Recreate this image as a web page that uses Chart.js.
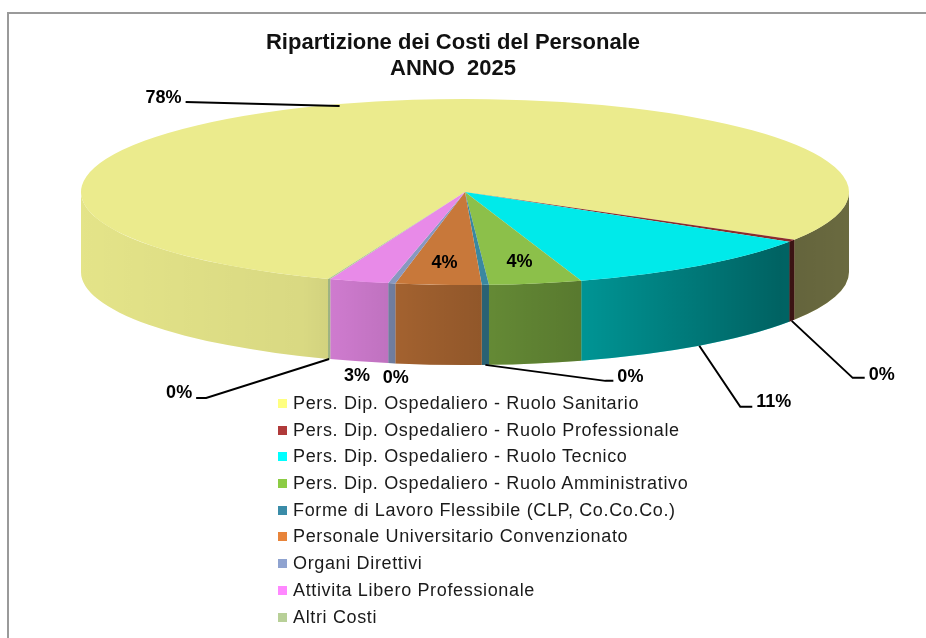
<!DOCTYPE html>
<html>
<head>
<meta charset="utf-8">
<title>Ripartizione dei Costi del Personale</title>
<script src="https://cdn.jsdelivr.net/npm/chart.js@4.4.1/dist/chart.umd.min.js"></script>
<style>
  html, body { margin: 0; padding: 0; background: #fff; }
  body { width: 926px; height: 638px; position: relative; overflow: hidden; font-family: Arial, "Liberation Sans", sans-serif; }
  #frame { position: absolute; left: 7px; top: 12px; width: 1000px; height: 1000px; border: 2px solid #9a9a9a; }
  #costChart { position: absolute; left: 0; top: 0; }
  #legend { position: absolute; left: 278px; top: 390px; margin: 0; padding: 0; list-style: none; }
  #legend li { height: 26.7px; line-height: 26.7px; font-size: 18px; letter-spacing: 0.65px; color: #1a1a1a; white-space: nowrap; }
  #legend li span { display: inline-block; width: 9px; height: 9px; margin-right: 6px; vertical-align: 1px; }
</style>
</head>
<body>
<div id="frame"></div>
<canvas id="costChart" width="926" height="638"></canvas>
<ul id="legend"></ul>
<script>
// data (percent share of total personnel cost)
const categories = [
    'Pers. Dip. Ospedaliero - Ruolo Sanitario',
    'Pers. Dip. Ospedaliero - Ruolo Professionale',
    'Pers. Dip. Ospedaliero - Ruolo Tecnico',
    'Pers. Dip. Ospedaliero - Ruolo Amministrativo',
    'Forme di Lavoro Flessibile (CLP, Co.Co.Co.)',
    'Personale Universitario Convenzionato',
    'Organi Direttivi',
    'Attivita Libero Professionale',
    'Altri Costi'
];
const shares = [77.8, 0.4, 11.1, 3.9, 0.3, 3.6, 0.3, 2.5, 0.1];

// colours: lit top face and legend swatches
const faceColors = ['#ebeb8d', '#8b2d2d', '#00eaea', '#8cc04a', '#3a88a0', '#c8783a', '#8898c0', '#e88ae8', '#b0c890'];
const legendColors = ['#ffff80', '#b03a3a', '#00ffff', '#8ccc44', '#3a8ca8', '#e8843a', '#8fa3d0', '#ff88ff', '#b8d098'];

// 3d look of the pie
const pie3d = { cx: 465, cy: 192, rx: 384, ry: 93, depth: 80 };

// label placement per slice: inside the face, plain under the side, or with a leader line
const labelStyle = [
    { mode: 'leader', top: true, dx: -154, dy: -4, tail: 0, ty: -4 },
    { mode: 'leader', dx: 61, dy: 57, tail: 12, ty: -3 },
    { mode: 'leader', dx: 41, dy: 61, tail: 12, ty: -5 },
    { mode: 'inside' },
    { mode: 'leader', dx: 120, dy: 16, tail: 8, ty: -4 },
    { mode: 'inside' },
    { mode: 'plain', dx: 4, dy: 15 },
    { mode: 'plain', dx: -2, dy: 15 },
    { mode: 'leader', dx: -123, dy: 39, tail: -10, ty: -5 }
];

const total = shares.reduce((a, b) => a + b, 0);

function ellipsePoint(angle, f, drop) {
    return {
        x: pie3d.cx + f * pie3d.rx * Math.cos(angle),
        y: pie3d.cy + f * pie3d.ry * Math.sin(angle) + (drop || 0)
    };
}

const pie3dPlugin = {
    id: 'pie3d',
    beforeDatasetDraw(chart) {
        const ctx = chart.ctx;
        const arcs = chart.getDatasetMeta(0).data;
        const colors = chart.data.datasets[0].backgroundColor;
        const { cx, cy, rx, ry, depth } = pie3d;

        const shade = ctx.createLinearGradient(cx - rx, 0, cx + rx, 0);
        shade.addColorStop(0, 'rgba(0,0,0,0.03)');
        shade.addColorStop(0.29, 'rgba(0,0,0,0.08)');
        shade.addColorStop(0.45, 'rgba(0,0,0,0.22)');
        shade.addColorStop(0.58, 'rgba(0,0,0,0.32)');
        shade.addColorStop(0.67, 'rgba(0,0,0,0.38)');
        shade.addColorStop(0.91, 'rgba(0,0,0,0.58)');
        shade.addColorStop(1, 'rgba(0,0,0,0.55)');

        // side wall, only the front half is visible
        arcs.forEach((arc, i) => {
            const { startAngle, endAngle } = arc.getProps(['startAngle', 'endAngle'], true);
            for (let k = -1; k <= 2; k++) {
                const s = Math.max(startAngle, k * 2 * Math.PI);
                const e = Math.min(endAngle, k * 2 * Math.PI + Math.PI);
                if (e <= s) continue;
                ctx.beginPath();
                ctx.ellipse(cx, cy, rx, ry, 0, s, e);
                ctx.ellipse(cx, cy + depth, rx, ry, 0, e, s, true);
                ctx.closePath();
                ctx.fillStyle = colors[i];
                ctx.fill();
                ctx.fillStyle = shade;
                ctx.fill();
            }
        });

        // squash the library's round pie onto the top face
        const a0 = arcs[0];
        ctx.save();
        ctx.translate(cx, cy);
        ctx.scale(rx / a0.outerRadius, ry / a0.outerRadius);
        ctx.translate(-a0.x, -a0.y);
    },
    afterDatasetDraw(chart) {
        const ctx = chart.ctx;
        ctx.restore();

        const arcs = chart.getDatasetMeta(0).data;
        const values = chart.data.datasets[0].data;
        ctx.save();
        ctx.font = 'bold 18px Arial, "Liberation Sans", sans-serif';
        ctx.fillStyle = '#000';
        ctx.strokeStyle = '#000';
        ctx.lineWidth = 2;
        ctx.textBaseline = 'middle';

        arcs.forEach((arc, i) => {
            const { startAngle, endAngle } = arc.getProps(['startAngle', 'endAngle'], true);
            const mid = (startAngle + endAngle) / 2;
            const text = Math.round(values[i] / total * 100) + '%';
            const st = labelStyle[i];
            const front = Math.sin(mid) > 0 && !st.top;

            if (st.mode === 'inside') {
                const p = ellipsePoint(mid, 0.77, 0);
                ctx.textAlign = 'center';
                ctx.fillText(text, p.x, p.y);
                return;
            }
            const anchor = ellipsePoint(mid, 1, front ? pie3d.depth : 2);
            if (st.mode === 'plain') {
                ctx.textAlign = 'center';
                ctx.fillText(text, anchor.x + st.dx, anchor.y + st.dy);
                return;
            }
            const elbow = { x: anchor.x + st.dx, y: anchor.y + st.dy };
            const goesLeft = st.dx < 0;
            const end = { x: elbow.x + st.tail, y: elbow.y };
            ctx.beginPath();
            ctx.moveTo(anchor.x, anchor.y);
            ctx.lineTo(elbow.x, elbow.y);
            ctx.lineTo(end.x, end.y);
            ctx.stroke();
            ctx.textAlign = goesLeft ? 'right' : 'left';
            ctx.fillText(text, end.x + (goesLeft ? -4 : 4), end.y + st.ty);
        });
        ctx.restore();
    }
};

new Chart(document.getElementById('costChart'), {
    type: 'pie',
    data: {
        labels: categories,
        datasets: [{
            data: shares,
            backgroundColor: faceColors,
            borderWidth: 0
        }]
    },
    options: {
        responsive: false,
        animation: false,
        rotation: 200.9,
        layout: { padding: { right: 20 } },
        plugins: {
            legend: { display: false },
            tooltip: { enabled: false },
            title: {
                display: true,
                text: ['Ripartizione dei Costi del Personale', 'ANNO  2025'],
                color: '#111',
                font: { family: 'Arial, "Liberation Sans", sans-serif', size: 22, weight: 'bold', lineHeight: 1.18 },
                padding: { top: 30, bottom: 10 }
            }
        }
    },
    plugins: [pie3dPlugin]
});

// legend built from the same arrays
const legendEl = document.getElementById('legend');
categories.forEach((name, i) => {
    const li = document.createElement('li');
    const box = document.createElement('span');
    box.style.background = legendColors[i];
    li.appendChild(box);
    li.appendChild(document.createTextNode(name));
    legendEl.appendChild(li);
});
</script>
</body>
</html>
